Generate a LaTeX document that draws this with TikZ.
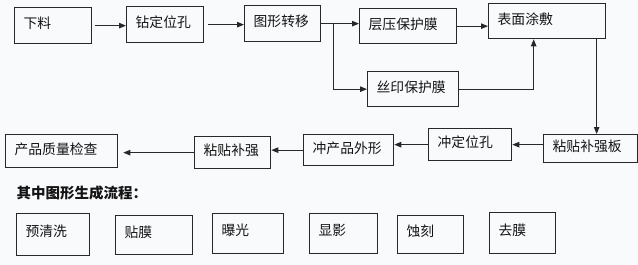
\documentclass[tikz,border=0pt]{standalone}
\usepackage{fontspec}
\setmainfont{Noto Sans CJK SC}
\usetikzlibrary{arrows.meta}
\definecolor{bg}{RGB}{249,250,252}
\definecolor{lncol}{RGB}{40,40,40}
\definecolor{txcol}{RGB}{20,20,20}
\begin{document}
\begin{tikzpicture}[x=1pt,y=-1pt,
  box/.style={draw=lncol, line width=1.3pt, anchor=north west, align=left,
    inner xsep=9pt, inner ysep=0pt, font=\fontsize{13.8}{14}\selectfont,
    text=txcol, text height=10pt, text depth=4pt},
  lowbox/.style={box, text depth=6pt},
  arr/.style={draw=lncol, line width=0.9pt, -{Triangle[length=7pt,width=5.5pt]}}]
\useasboundingbox (0,0) rectangle (638,265);
\fill[bg] (0,0) rectangle (638,265);
% main flow
\node[box, text width=59pt, minimum height=36pt] (a1) at (14,7) {下料};
\node[box, text width=59pt, minimum height=36pt] (a2) at (126,6) {钻定位孔};
\node[box, text width=58pt, minimum height=36pt] (a3) at (244,5) {图形转移};
\node[box, text width=79pt, minimum height=35pt] (a4) at (359,8) {层压保护膜};
\node[box, text width=73pt, minimum height=35pt] (a5) at (367,71) {丝印保护膜};
\node[box, text width=99pt, minimum height=35pt] (a6) at (488,3) {表面涂敷};
\node[box, text width=76pt, minimum height=28pt] (a7) at (543,134) {粘贴补强板};
\node[box, text width=65pt, minimum height=32pt] (a8) at (428,128) {冲定位孔};
\node[box, text width=72pt, minimum height=31pt] (a9) at (303,134) {冲产品外形};
\node[box, text width=58pt, minimum height=32pt] (a10) at (194,136) {粘贴补强};
\node[box, text width=94pt, minimum height=33pt] (a11) at (5,134) {产品质量检查};
% connectors
\draw[arr, shorten <=3pt] (a1.east) -- (a1.east -| a2.west);
\draw[arr, shorten <=4pt] (a2.east) -- (a2.east -| a3.west);
\path (a3.east) ++(12,0) coordinate (br);
\draw[arr] (a3.east) -- (a3.east -| a4.west);
\draw[arr] (br) |- (a5.west);
\draw[arr] (a4.east) -- (a4.east -| a6.west);
\path (a6.south) ++(-13.5,0) coordinate (c1);
\draw[arr] (a5.east) -| (c1);
\path (a6.south) ++(49.5,0) coordinate (c2);
\draw[arr] (c2) -- (c2 |- a7.north);
\draw[arr] (a7.west |- a8.east) -- (a8.east);
\draw[arr] (a8.west) -- (a8.west -| a9.east);
\draw[arr] (a9.west) -- (a9.west -| a10.east);
\draw[arr, shorten >=5pt] (a10.west) -- (a10.west -| a11.east);
% sub process
\node[anchor=west, font=\fontsize{14.5}{15}\selectfont\bfseries, text=txcol] (h) at (13,193) {其中图形生成流程：};
\node[lowbox, text width=55pt, minimum height=42pt] (b1) at (16,213) {预清洗};
\node[lowbox, text width=59pt, minimum height=39pt] (b2) at (115,215) {贴膜};
\node[lowbox, text width=53pt, minimum height=40pt] (b3) at (212,213) {曝光};
\node[lowbox, text width=50pt, minimum height=40pt] (b4) at (309,213) {显影};
\node[lowbox, text width=48pt, minimum height=38pt] (b5) at (397,215) {蚀刻};
\node[lowbox, text width=48pt, minimum height=41pt] (b6) at (489,212) {去膜};
\end{tikzpicture}
\end{document}
